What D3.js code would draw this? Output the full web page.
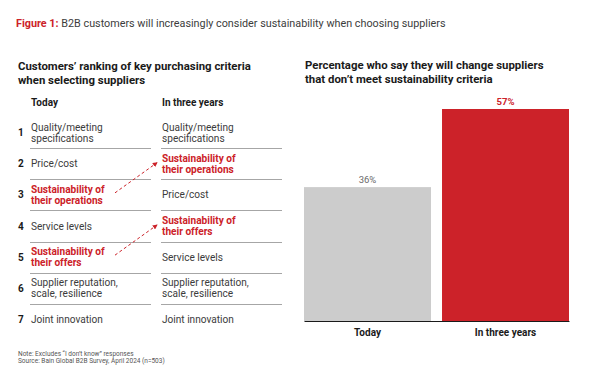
<!DOCTYPE html>
<html>
<head>
<meta charset="utf-8">
<script src="https://cdn.jsdelivr.net/npm/d3@7"></script>
<style>
  body { margin: 0; background: #fff; }
  svg { display: block; font-family: Roboto, "Noto Sans", sans-serif; }
</style>
</head>
<body>
<svg id="chart" width="600" height="377"></svg>
<script>
const ranks = [1, 2, 3, 4, 5, 6, 7];
const todayItems = [
  ["Quality/meeting", "specifications"],
  ["Price/cost"],
  ["Sustainability of", "their operations"],
  ["Service levels"],
  ["Sustainability of", "their offers"],
  ["Supplier reputation,", "scale, resilience"],
  ["Joint innovation"]
];
const futureItems = [
  ["Quality/meeting", "specifications"],
  ["Sustainability of", "their operations"],
  ["Price/cost"],
  ["Sustainability of", "their offers"],
  ["Service levels"],
  ["Supplier reputation,", "scale, resilience"],
  ["Joint innovation"]
];
const barCategories = ["Today", "In three years"];
const barValues = [36, 57];

const red = "#cc2229";
const textCol = "#3c3c3c";
const svg = d3.select("#chart");

// title
const title = svg.append("text").attr("x", 16).attr("y", 27).attr("font-size", 10.8);
title.append("tspan").attr("fill", red).attr("font-weight", 700).text("Figure 1: ");
title.append("tspan").attr("fill", textCol).text("B2B customers will increasingly consider sustainability when choosing suppliers");

// subtitles
function multiText(x, y, lines, lh) {
  const t = svg.append("text").attr("x", x).attr("y", y)
    .attr("font-size", 11.4).attr("font-weight", 700).attr("fill", "#1a1a1a");
  lines.forEach((l, i) => t.append("tspan").attr("x", x).attr("dy", i ? lh : 0).text(l));
}
multiText(18, 70, ["Customers\u2019 ranking of key purchasing criteria", "when selecting suppliers"], 14);
multiText(305, 69, ["Percentage who say they will change suppliers", "that don\u2019t meet sustainability criteria"], 14);

// ranking table
const rowY = d3.scaleBand().domain(ranks).range([117, 335]);
const colLeft = 31, colRight = 162;
const isSus = lines => lines[0].startsWith("Sustainability");

svg.append("text").attr("x", colLeft).attr("y", 106).attr("font-size", 10)
  .attr("font-weight", 700).attr("fill", "#1a1a1a").text("Today");
svg.append("text").attr("x", colRight).attr("y", 106).attr("font-size", 10)
  .attr("font-weight", 700).attr("fill", "#1a1a1a").text("In three years");

const rows = svg.append("g").selectAll("g").data(ranks).join("g")
  .attr("transform", d => `translate(0,${rowY(d) + rowY.bandwidth() / 2})`);

rows.append("text").attr("x", 18).attr("y", 3.5).attr("font-size", 10)
  .attr("font-weight", 700).attr("fill", "#1a1a1a").text(d => d);

function cell(sel, x, items) {
  sel.each(function(d, i) {
    const lines = items[i];
    const hl = isSus(lines);
    const t = d3.select(this).append("text").attr("x", x)
      .attr("y", 3.5 - (lines.length - 1) * 5.5)
      .attr("font-size", 10.1)
      .attr("font-weight", hl ? 700 : 400)
      .attr("fill", hl ? red : textCol);
    lines.forEach((l, j) => t.append("tspan").attr("x", x).attr("dy", j ? 11 : 0).text(l));
  });
}
cell(rows, colLeft, todayItems);
cell(rows, colRight, futureItems);

// separators
const seps = ranks.slice(0, -1);
[[30, 151], [161, 282]].forEach(([x0, x1]) => {
  svg.append("g").selectAll("line").data(seps).join("line")
    .attr("x1", x0).attr("x2", x1)
    .attr("y1", d => Math.round(rowY(d) + rowY.bandwidth()) + 0.5)
    .attr("y2", d => Math.round(rowY(d) + rowY.bandwidth()) + 0.5)
    .attr("stroke", "#a6a6a6").attr("stroke-width", 1);
});

// arrows for moved sustainability items
svg.append("defs").append("marker").attr("id", "ah")
  .attr("viewBox", "0 0 6 6").attr("refX", 5).attr("refY", 3)
  .attr("markerWidth", 5).attr("markerHeight", 5).attr("orient", "auto")
  .append("path").attr("d", "M0,0L6,3L0,6Z").attr("fill", red);

const moves = [];
todayItems.forEach((it, i) => {
  if (!isSus(it)) return;
  const j = futureItems.findIndex(f => f.join() === it.join());
  if (j !== i) moves.push({ from: ranks[i], to: ranks[j] });
});
svg.append("g").selectAll("line").data(moves).join("line")
  .attr("x1", 115).attr("x2", 157)
  .attr("y1", d => rowY(d.from) + rowY.bandwidth() / 2 - 2)
  .attr("y2", d => rowY(d.to) + rowY.bandwidth() / 2 - 1)
  .attr("stroke", red).attr("stroke-width", 1)
  .attr("stroke-dasharray", "3,2.5")
  .attr("marker-end", "url(#ah)");

// bar chart
const x = d3.scaleBand().domain(barCategories).range([304, 569]).paddingInner(0.08);
const y = d3.scaleLinear().domain([0, d3.max(barValues)]).range([321, 109]);
const barColors = ["#cccccc", red];
const labelColors = ["#6b6b6b", red];

const bars = svg.append("g").selectAll("g").data(barCategories).join("g");
bars.append("rect")
  .attr("x", d => x(d)).attr("width", x.bandwidth())
  .attr("y", (d, i) => y(barValues[i]))
  .attr("height", (d, i) => y(0) - y(barValues[i]))
  .attr("fill", (d, i) => barColors[i]);
bars.append("text")
  .attr("x", d => x(d) + x.bandwidth() / 2)
  .attr("y", (d, i) => y(barValues[i]) - 4)
  .attr("text-anchor", "middle").attr("font-size", 9.5)
  .attr("font-weight", (d, i) => i ? 700 : 400)
  .attr("fill", (d, i) => labelColors[i])
  .text((d, i) => barValues[i] + "%");

const xAxis = svg.append("g").attr("transform", `translate(0,${y(0)})`)
  .call(d3.axisBottom(x).tickSize(0).tickPadding(8));
xAxis.select(".domain").attr("stroke", "#1a1a1a").attr("stroke-width", 1.2);
xAxis.selectAll("text").attr("font-size", 10).attr("font-weight", 700)
  .attr("fill", "#1a1a1a").attr("font-family", "Roboto, sans-serif");

// footnotes
svg.append("text").attr("x", 18).attr("y", 356).attr("font-size", 6.5)
  .attr("fill", "#555").text("Note: Excludes \u201CI don\u2019t know\u201D responses");
svg.append("text").attr("x", 18).attr("y", 362.5).attr("font-size", 6.5)
  .attr("fill", "#555").text("Source: Bain Global B2B Survey, April 2024 (n=503)");
</script>
</body>
</html>
